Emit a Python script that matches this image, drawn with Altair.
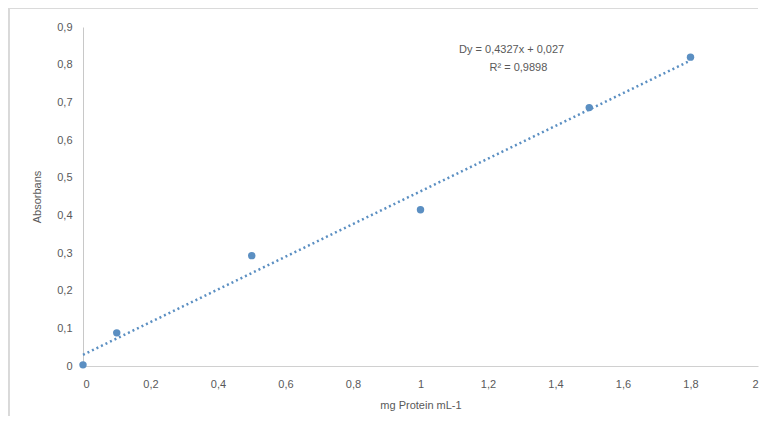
import altair as alt
import pandas as pd

conc = [0, 0.1, 0.5, 1.0, 1.5, 1.8]
absorb = [0.003, 0.088, 0.293, 0.415, 0.686, 0.82]
x_ticks = [0, 0.2, 0.4, 0.6, 0.8, 1.0, 1.2, 1.4, 1.6, 1.8, 2.0]
y_ticks = [0, 0.1, 0.2, 0.3, 0.4, 0.5, 0.6, 0.7, 0.8, 0.9]
eq_text = ["Dy = 0,4327x + 0,027", "R² = 0,9898"]
eq_x = [1.27, 1.29]
eq_y = [0.838, 0.79]

df = pd.DataFrame({"x": conc, "y": absorb})
eq = pd.DataFrame({"x": eq_x, "y": eq_y, "t": eq_text})

FONT = "Liberation Sans"
GRAY = "#595959"
BLUE = "#5B8FC2"

xs = alt.Scale(domain=[0, 2], nice=False)
ys = alt.Scale(domain=[0, 0.9], nice=False)
lbl = "replace(format(datum.value, '.1~f'), '.', ',')"

xax = alt.Axis(values=x_ticks, labelExpr=lbl, grid=False, ticks=False, labelOverlap=False,
               domainColor="#d0d0d0", labelColor=GRAY, labelFont=FONT, labelFontSize=11,
               labelPadding=12, title="mg Protein  mL-1", titleColor=GRAY, titleFont=FONT,
               titleFontSize=11, titleFontWeight="normal", titlePadding=10)
yax = alt.Axis(values=y_ticks, labelExpr=lbl, grid=False, ticks=False, labelOverlap=False,
               domainColor="#c8c8c8", labelColor=GRAY, labelFont=FONT, labelFontSize=11,
               labelPadding=11, title="Absorbans", titleColor=GRAY, titleFont=FONT,
               titleFontSize=11, titleFontWeight="normal", titlePadding=14)

X = alt.X("x:Q", scale=xs, axis=xax)
Y = alt.Y("y:Q", scale=ys, axis=yax)

base = alt.Chart(df)

trend = base.transform_regression("x", "y", extent=[0, 1.8]).mark_line(
    color=BLUE, strokeDash=[2, 3], strokeWidth=2.5
).encode(x=X, y=Y)

pts = base.mark_circle(size=55, color=BLUE, opacity=1).encode(x=X, y=Y)

txt = alt.Chart(eq).mark_text(font=FONT, fontSize=11, color=GRAY, align="center").encode(
    x=X, y=Y, text="t:N"
)

frame_left = alt.Chart(df).mark_rule(color="#d9d9d9", strokeWidth=1).encode(
    x=alt.value(-74), y=alt.value(-19), y2=alt.value(403)
)
frame_top = alt.Chart(df).mark_rule(color="#d9d9d9", strokeWidth=1).encode(
    x=alt.value(-74), x2=alt.value(675), y=alt.value(-19)
)

chart = alt.layer(trend, pts, txt, frame_left, frame_top).properties(
    width=675, height=339,
    autosize=alt.AutoSizeParams(type="none"),
    padding={"left": 75, "top": 19, "right": 5, "bottom": 50},
    background="white",
).configure_view(stroke=None, strokeWidth=0)

chart.save("out.html", embed_options={"renderer": "svg", "actions": False})
